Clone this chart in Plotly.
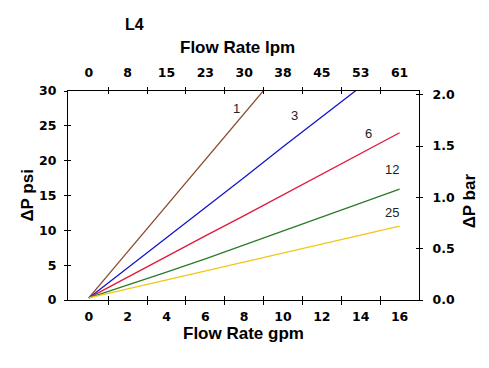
import plotly.graph_objects as go

# ---------------- data ----------------
gpm_ticks = [0, 2, 4, 6, 8, 10, 12, 14, 16]
lpm_labels = ["0", "8", "15", "23", "30", "38", "45", "53", "61"]
psi_ticks = [0, 5, 10, 15, 20, 25, 30]
bar_ticks = [0.0, 0.5, 1.0, 1.5, 2.0]
bar_labels = ["0.0", "0.5", "1.0", "1.5", "2.0"]
minor_gpm = [1, 3, 5, 7, 9, 11, 13, 15]

series_names = ["1", "3", "6", "12", "25"]
flow_1 = [0, 2, 4, 6, 8, 9.1]
dp_1 = [0.3, 6.9, 13.5, 20.2, 26.8, 30.4]
flow_3 = [0, 2, 4, 6, 8, 10, 12, 14]
dp_3 = [0.3, 4.6, 9.0, 13.3, 17.6, 22.0, 26.3, 30.6]
flow_6 = [0, 2, 4, 6, 8, 10, 12, 14, 16]
dp_6 = [0.3, 3.3, 6.2, 9.2, 12.1, 15.1, 18.1, 21.0, 24.0]
flow_12 = [0, 2, 4, 6, 8, 10, 12, 14, 16]
dp_12 = [0.3, 2.1, 4.0, 5.9, 7.9, 9.9, 11.9, 13.9, 15.9]
flow_25 = [0, 2, 4, 6, 8, 10, 12, 14, 16]
dp_25 = [0.3, 1.6, 2.8, 4.1, 5.4, 6.7, 8.0, 9.3, 10.6]

# label anchor positions (data units)
label_x = [7.6, 10.6, 14.4, 15.6, 15.6]
label_y = [27.5, 26.5, 23.9, 18.7, 12.6]

colors = ["#8B4A2B", "#1515C8", "#E0183A", "#2A7A2A", "#F0C814"]

# ---------------- figure ----------------
OFF = 8  # page body margin
W, H = 489 - OFF, 368 - OFF
# plot area in reference pixels: x 67.5..419.5, y 91..300
ML, MR, MT, MB = 67.5 - OFF, 489 - 419.5, 91 - OFF, 368 - 300
PW, PH = W - ML - MR, H - MT - MB


def px(x):
    return (x - OFF - ML) / PW


def py(y):
    return (H - MB - (y - OFF)) / PH


fig = go.Figure()
xs = [flow_1, flow_3, flow_6, flow_12, flow_25]
ys = [dp_1, dp_3, dp_6, dp_12, dp_25]
for name, x, y, c in zip(series_names, xs, ys, colors):
    fig.add_trace(go.Scatter(x=x, y=y, mode="lines", name=name,
                             line=dict(color=c, width=1.3),
                             showlegend=False, hoverinfo="skip"))

# empty traces so every overlay axis is drawn
for xa, ya in [("x2", "y"), ("x3", "y"), ("x4", "y"), ("x5", "y"), ("x6", "y"),
               ("x", "y2"), ("x", "y3"), ("x", "y4")]:
    fig.add_trace(go.Scatter(x=[None], y=[None], xaxis=xa, yaxis=ya,
                             mode="lines", showlegend=False, hoverinfo="skip"))

bold = dict(family="DejaVu Sans", size=12.5, color="black", weight="bold")
XR = [-1.07, 17.0]
YR = [0, 30]
Y2R = [0, 2.036]

common = dict(showgrid=False, zeroline=False)
tk = dict(tickcolor="black", showticklabels=False, showline=False, **common)

layout = dict(
    width=W, height=H,
    margin=dict(l=ML, r=MR, t=MT, b=MB, pad=0),
    plot_bgcolor="white", paper_bgcolor="white",
    xaxis=dict(range=XR, tickvals=gpm_ticks, ticks="", showline=True,
               linecolor="black", linewidth=1, tickfont=bold,
               ticklabelstandoff=5, **common),
    xaxis2=dict(range=XR, overlaying="x", anchor="y", side="top",
                tickvals=gpm_ticks, ticktext=lpm_labels, ticks="",
                showline=True, linecolor="black", linewidth=1,
                tickfont=bold, ticklabelstandoff=8, **common),
    xaxis3=dict(range=XR, overlaying="x", anchor="y", side="bottom",
                tickvals=minor_gpm, ticks="outside", ticklen=4, **tk),
    xaxis4=dict(range=XR, overlaying="x", anchor="y", side="bottom",
                tickvals=minor_gpm, ticks="inside", ticklen=4, **tk),
    xaxis5=dict(range=XR, overlaying="x", anchor="y", side="top",
                tickvals=minor_gpm, ticks="outside", ticklen=3, **tk),
    xaxis6=dict(range=XR, overlaying="x", anchor="y", side="top",
                tickvals=minor_gpm, ticks="inside", ticklen=3, **tk),
    yaxis=dict(range=YR, tickvals=psi_ticks, ticks="outside", ticklen=3,
               tickcolor="black", showline=True, linecolor="black", linewidth=1,
               tickfont=bold, ticklabelstandoff=5, **common),
    yaxis3=dict(range=YR, overlaying="y", anchor="x", side="left",
                tickvals=psi_ticks, ticks="inside", ticklen=3, **tk),
    yaxis2=dict(range=Y2R, overlaying="y", anchor="x", side="right",
                tickvals=bar_ticks, ticktext=bar_labels, ticks="outside",
                ticklen=3, tickcolor="black", showline=True, linecolor="black",
                linewidth=1, tickfont=bold, ticklabelstandoff=7, **common),
    yaxis4=dict(range=Y2R, overlaying="y", anchor="x", side="right",
                tickvals=bar_ticks, ticks="inside", ticklen=3, **tk),
)
fig.update_layout(**layout)

title_font = dict(family="Liberation Sans, Arial", size=17, color="black", weight="bold")
annos = [
    dict(text="L4", x=px(134), y=py(25), font=dict(family="Liberation Sans, Arial", size=16, color="black", weight="bold")),
    dict(text="Flow Rate lpm", x=px(237), y=py(47), font=title_font),
    dict(text="Flow Rate gpm", x=px(243), y=py(333), font=title_font),
    dict(text="ΔP psi", x=px(26), y=py(195), font=title_font, textangle=-90),
    dict(text="ΔP bar", x=px(470), y=py(201), font=title_font, textangle=-90),
]
for a in annos:
    fig.add_annotation(xref="paper", yref="paper", showarrow=False,
                       xanchor="center", yanchor="middle", **a)

for name, lx, ly in zip(series_names, label_x, label_y):
    fig.add_annotation(x=lx, y=ly, xref="x", yref="y", text=name, showarrow=False,
                       xanchor="center", yanchor="middle",
                       font=dict(family="Liberation Sans, Arial", size=13, color="#222"))

fig.write_html("out.html")
